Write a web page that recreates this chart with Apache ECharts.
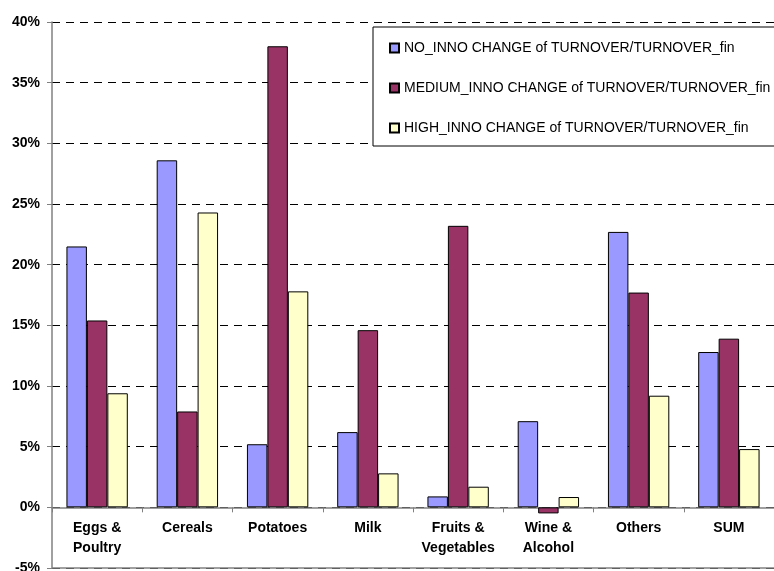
<!DOCTYPE html>
<html>
<head>
<meta charset="utf-8">
<script src="https://cdn.jsdelivr.net/npm/echarts@6/dist/echarts.min.js"></script>
<style>
  html, body { margin: 0; padding: 0; background: #fff; }
  #chart { width: 774px; height: 571px; }
</style>
</head>
<body>
<div id="chart"></div>
<script>
var categories = ['Eggs &\nPoultry', 'Cereals', 'Potatoes', 'Milk', 'Fruits &\nVegetables', 'Wine &\nAlcohol', 'Others', 'SUM'];
var seriesNames = [
  'NO_INNO CHANGE of TURNOVER/TURNOVER_fin',
  'MEDIUM_INNO CHANGE of TURNOVER/TURNOVER_fin',
  'HIGH_INNO CHANGE of TURNOVER/TURNOVER_fin'
];
// values in percent
var noInno = [21.5, 28.6, 5.2, 6.2, 0.9, 7.1, 22.7, 12.8];
var mediumInno = [15.4, 7.9, 38.0, 14.6, 23.2, -0.5, 17.7, 13.9];
var highInno = [9.4, 24.3, 17.8, 2.8, 1.7, 0.85, 9.2, 4.8];
var colors = ['#9999FF', '#993366', '#FFFFCC'];

var yMin = -5, yMax = 40;
var gridTop = 22, gridBottom = 3, chartH = 571;

var myChart = echarts.init(document.getElementById('chart'));

function makeSeries(name, data, color) {
  return {
    name: name,
    type: 'bar',
    data: data,
    barGap: '0%',
    barCategoryGap: '32%',
    itemStyle: {
      color: color,
      borderColor: '#000',
      borderWidth: 1
    }
  };
}

var series = [
  makeSeries(seriesNames[0], noInno, colors[0]),
  makeSeries(seriesNames[1], mediumInno, colors[1]),
  makeSeries(seriesNames[2], highInno, colors[2])
];
// solid bottom border at -5%
series[0].markLine = {
  silent: true,
  symbol: 'none',
  label: { show: false },
  lineStyle: { color: '#808080', type: 'solid', width: 1.5 },
  data: [{ yAxis: yMin }]
};

// move the category axis up from the grid bottom to the 0% line
var plotH = chartH - gridTop - gridBottom;
var zeroOffset = -plotH * (0 - yMin) / (yMax - yMin);

myChart.setOption({
  animation: false,
  textStyle: { fontFamily: 'Arial, "Liberation Sans", sans-serif' },
  grid: { left: 52, right: 0, top: gridTop, bottom: gridBottom, containLabel: false, outerBoundsMode: 'none' },
  legend: {
    orient: 'vertical',
    left: 373,
    top: 27,
    padding: [14, 40, 11, 16],
    itemGap: 26,
    itemWidth: 9,
    itemHeight: 9,
    icon: 'rect',
    backgroundColor: '#fff',
    borderColor: '#000',
    borderWidth: 1,
    textStyle: { fontSize: 14, color: '#000' },
    data: seriesNames
  },
  xAxis: {
    type: 'category',
    data: categories,
    position: 'bottom',
    offset: zeroOffset,
    axisLine: { onZero: false, lineStyle: { color: '#808080', width: 1.5 } },
    axisTick: { show: true, length: 5, lineStyle: { color: '#808080' } },
    axisLabel: {
      color: '#000',
      fontWeight: 'bold',
      fontSize: 14,
      lineHeight: 20,
      margin: 11,
      interval: 0
    }
  },
  yAxis: {
    type: 'value',
    min: yMin,
    max: yMax,
    interval: 5,
    axisLine: { show: true, lineStyle: { color: '#808080', width: 1.5 } },
    axisTick: { show: true, length: 5, lineStyle: { color: '#808080' } },
    axisLabel: {
      color: '#000',
      fontWeight: 'bold',
      fontSize: 14,
      margin: 12,
      formatter: '{value}%'
    },
    splitLine: {
      show: true,
      lineStyle: { color: '#000', type: [8, 6], width: 1 }
    }
  },
  series: series
});
</script>
</body>
</html>
